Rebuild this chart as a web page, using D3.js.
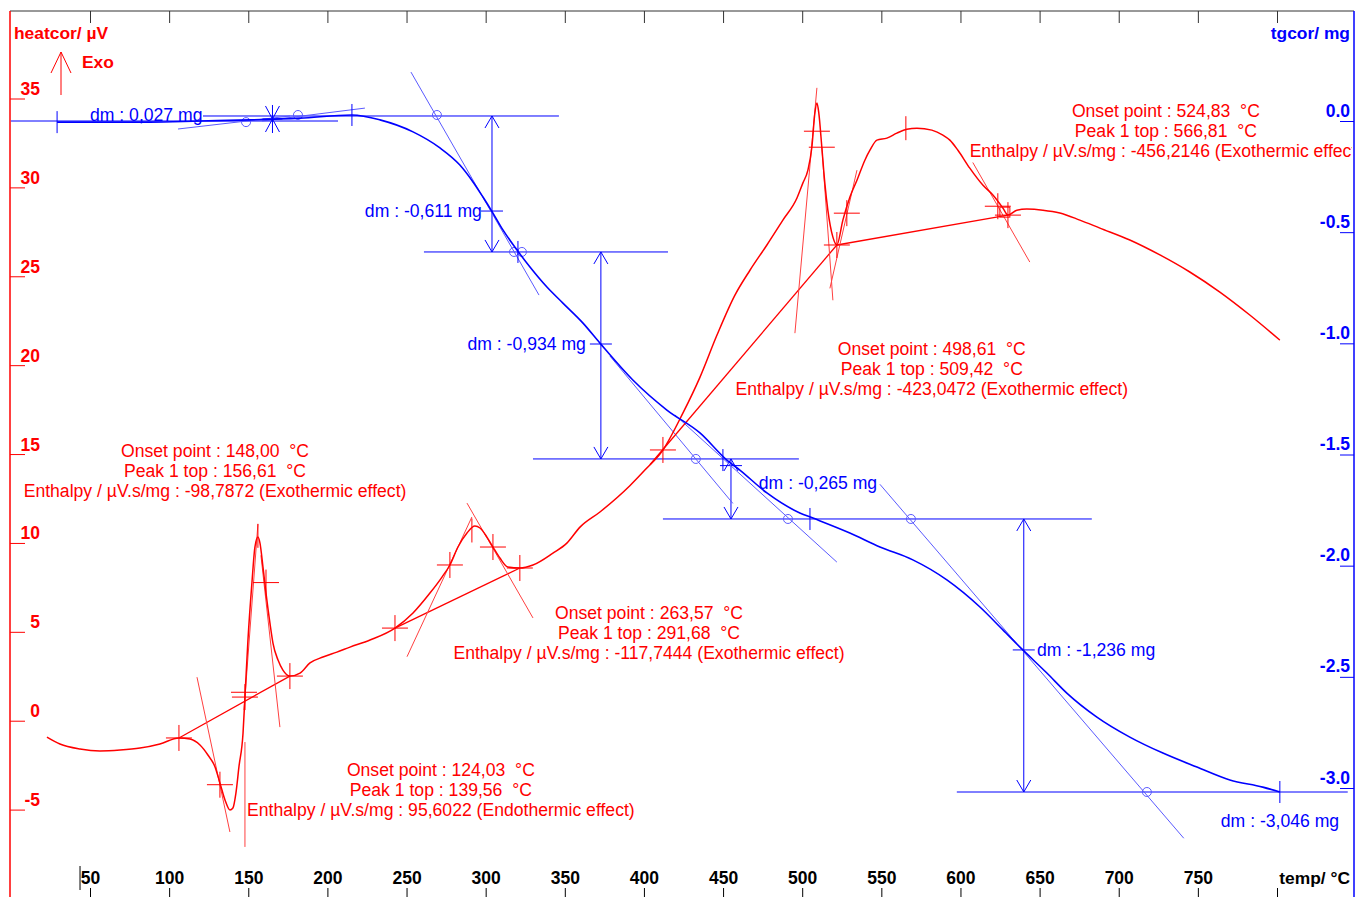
<!DOCTYPE html>
<html>
<head>
<meta charset="utf-8">
<script src="https://cdn.jsdelivr.net/npm/d3@7"></script>
<title>DSC / TG</title>
<style>
    body { margin: 0; background: #fff; }
    svg { display: block; background: #fff; }
    .axis text { font-family: "Liberation Sans", Arial, sans-serif; font-weight: bold; font-size: 17.5px; }
    .note { font-family: "Liberation Sans", Arial, sans-serif; font-size: 17.6px; white-space: pre; }
    .title { font-family: "Liberation Sans", Arial, sans-serif; font-weight: bold; font-size: 17.4px; }
</style>
</head>
<body>
<svg width="1356" height="897"></svg>
<script>
    // ticks
    const tempTicks = [50, 100, 150, 200, 250, 300, 350, 400, 450, 500, 550, 600, 650, 700, 750];
    const heatTicks = [-5, 0, 5, 10, 15, 20, 25, 30, 35];
    const massTicks = [0, -0.5, -1.0, -1.5, -2.0, -2.5, -3.0];

    // DSC curve (heatcor, µV)
    const dscTemp = [22.8, 31, 43.7, 56.3, 69, 81.6, 94.2, 106.2, 113.2, 119.5, 124.5, 129, 132.1, 135.3, 138.4, 140.3,
        142.2, 144.1, 146.7, 147.9, 149.8, 152.3, 154.2, 156.1, 157.4, 159.3, 161.2, 163.7, 165.6, 168.8, 171.9, 176.3,
        182.7, 189, 197.2, 206, 214.3, 226.9, 242.7, 254.1, 264.8, 272.4, 277.4, 282.5, 288.2, 293.2, 296.4, 300.8,
        304.6, 309, 314.1, 321.6, 329.9, 342.5, 351.3, 359.6, 372.2, 391.1, 400.6, 412, 424.6, 435.3, 446.1, 457.5,
        467, 477.7, 487.8, 496.7, 500.4, 503.6, 506.1, 508, 509.3, 510.5, 512.4, 514.3, 516.2, 519.4, 521.9, 525.7,
        530.1, 534.6, 539.6, 542.8, 547.2, 553.5, 559.8, 566.1, 572.5, 581.9, 588.9, 593.3, 598.4, 605.9, 614.1, 620.5,
        626.8, 630, 635.6, 641.9, 652.1, 662.8, 675.4, 688.1, 707, 726, 744.9, 763.9, 782.8, 801.8];
    const dscHeat = [-0.92, -1.31, -1.59, -1.70, -1.65, -1.54, -1.31, -0.97, -1.03, -1.37, -1.93, -2.60, -3.50, -4.46, -5.02, -4.91,
        -4.07, -2.60, -0.69, 1.33, 4.54, 7.74, 9.77, 10.33, 9.99, 8.64, 7.18, 5.49, 4.37, 3.41, 2.85, 2.51,
        2.68, 3.25, 3.58, 3.86, 4.14, 4.54, 5.21, 6.06, 7.18, 8.08, 8.76, 9.77, 10.56, 10.95, 10.84, 10.33,
        9.77, 9.15, 8.64, 8.59, 8.76, 9.43, 9.99, 10.89, 11.74, 13.22, 14.1, 15.23, 17.3, 19.3, 21.68, 23.94,
        25.34, 26.76, 28.16, 29.4, 30.24, 30.97, 32.26, 34.18, 34.74, 34.18, 32.26, 30.24, 28.72, 27.2, 26.76, 28.16,
        29.45, 30.4, 31.53, 32.09, 32.66, 32.77, 33.05, 33.27, 33.33, 33.22, 32.94, 32.66, 32.09, 31.08, 30.13, 29.57,
        28.84, 28.44, 28.72, 28.78, 28.72, 28.56, 28.16, 27.71, 27.04, 26.2, 25.24, 24.11, 22.82, 21.41];

    // TG curve (tgcor, mg)
    const tgTemp = [29.2, 56.3, 87.9, 119.5, 151.1, 182.7, 215.5, 233.2, 254.1, 271.1, 283.7, 292, 298.3, 304.6, 310.9,
        319.8, 328, 338.7, 348.8, 361.5, 372.2, 393, 414.5, 435.4, 452.4, 460.6, 477.7, 498.5, 506.8, 530.1, 549.1,
        569.9, 591.4, 612.3, 626.8, 639.4, 654.6, 667.2, 686.2, 707, 727.9, 749.4, 770.2, 791, 801.8];
    const tgMass = [-0.005, -0.005, -0.005, 0, 0.005, 0.013, 0.027, 0.005, -0.049, -0.121, -0.198, -0.274, -0.342, -0.414, -0.49,
        -0.58, -0.657, -0.747, -0.819, -0.909, -0.999, -1.165, -1.3, -1.403, -1.525, -1.57, -1.673, -1.763, -1.786, -1.853, -1.916,
        -1.974, -2.064, -2.186, -2.289, -2.379, -2.483, -2.573, -2.681, -2.771, -2.843, -2.906, -2.964, -2.996, -3.018];

    // TG step evaluation: levels [mass, fromTemp, toTemp]
    const stepLevels = [[0, 0, 206.7], [0.0225, 121.4, 346.3], [-0.589, 261, 415.2], [-1.52, 329.9, 497.9],
        [-1.79, 412, 683], [-3.018, 597.7, 844.7]];
    // dm arrows: [temp, top mass, bottom mass, crossing mass]
    const dmArrows = [[304, 0.0225, -0.589, -0.405], [372.8, -0.589, -1.52, -1.003], [455, -1.52, -1.79, -1.55],
        [640, -1.79, -3.018, -2.379]];
    const dmText = ["dm : 0,027 mg", "dm : -0,611 mg", "dm : -0,934 mg", "dm : -0,265 mg", "dm : -1,236 mg", "dm : -3,046 mg"];
    const dmTextAt = [[50, 0.027, "start"], [297.6, -0.405, "end"], [363.3, -1.003, "end"], [472.6, -1.628, "start"],
        [648.3, -2.379, "start"], [764.5, -3.148, "start"]];
    const tgTangents = [[252.8, 0.22, 333.7, -0.783], [378.5, -1.057, 456.2, -1.72], [419.6, -1.322, 521.9, -1.984],
        [549.1, -1.634, 741.1, -3.226], [105.6, -0.036, 176.3, 0.0225], [158.7, 0, 223.7, 0.058]];
    const tgCircles = [[148.6, -0.005], [181.4, 0.027], [269.2, 0.027], [317.9, -0.589], [322.9, -0.589],
        [432.8, -1.52], [491, -1.79], [568.7, -1.79], [717.8, -3.018]];
    const tgTicks = [[29.2, -0.005], [215.5, 0.027], [320.4, -0.589], [449.9, -1.525], [504.9, -1.79], [801.8, -3.018]];
    const tgStar = [165.3, 0.009];

    // DSC peak evaluation
    const dscBaselines = [[106.2, -0.97, 176.3, 2.51], [242.7, 5.21, 321.6, 8.59], [403.8, 14.4, 521.9, 26.76],
        [521.9, 26.76, 630, 28.44]];
    const dscTangents = [[117.6, 2.45, 138.4, -6.26], [147.3, 0.6, 156.1, 11.06], [158, 9.3, 170, -0.36],
        [147.9, -1.2, 147.9, -7.1], [250.3, 3.6, 291.3, 11.46], [288.2, 12.24, 329.9, 5.78], [495.4, 21.8, 509.3, 35.6],
        [519.4, 23.65, 512.4, 32.26], [517.5, 24.32, 534.6, 30.97], [607.8, 31.4, 643.8, 25.8]];
    const dscCrosses = [[106.2, -0.97], [132.1, -3.6], [147.9, 1.33], [161.2, 7.77], [176.3, 2.51], [242.7, 5.21],
        [277.4, 8.76], [304.6, 9.77], [321.6, 8.59], [412, 15.23], [521.9, 26.76], [528.2, 28.55], [623.6, 28.94], [630, 28.44]];
    const dscHMarks = [[147.3, 1.6], [509.3, 33.16], [512.4, 32.26]];
    const dscVMarks = [[156.1, 10.4], [291.3, 10.7], [565.5, 33.33]];
    const dscSquare = [624.9, 28.89];

    const peakOnset = ["148,00", "263,57", "124,03", "498,61", "524,83"];
    const peakTop = ["156,61", "291,68", "139,56", "509,42", "566,81"];
    const peakEnthalpy = ["-98,7872", "-117,7444", "95,6022", "-423,0472", "-456,2146"];
    const peakEffect = ["Exothermic", "Exothermic", "Endothermic", "Exothermic", "Exothermic"];
    const peakLabelAt = [[129, 15.17], [403.2, 6.06], [271.7, -2.77], [581.9, 20.9], [729.8, 34.29]];

    const frameL = 10, frameR = 1354, frameT = 11, frameB = 897;
    const RED = "#ff0000", BLUE = "#0000ff", LBLUE = "#5a5aff", LRED = "#ff4040";

    const x = d3.scaleLinear().domain([50, 800]).range([90, 1277]);
    const yHeat = d3.scaleLinear().domain([-5, 35]).range([809.6, 98.5]);
    const yMass = d3.scaleLinear().domain([-3, 0]).range([788, 121]);

    const svg = d3.select("svg");

    svg.append("defs").append("clipPath").attr("id", "plot")
        .append("rect").attr("x", frameL).attr("y", frameT).attr("width", frameR - frameL - 2).attr("height", frameB - frameT);

    // frame
    svg.append("line").attr("x1", frameL).attr("x2", frameR).attr("y1", frameT).attr("y2", frameT)
        .attr("stroke", "#333").attr("stroke-width", 1);
    svg.append("line").attr("x1", frameL).attr("x2", frameL).attr("y1", frameT).attr("y2", frameB)
        .attr("stroke", RED).attr("stroke-width", 1.5);
    svg.append("line").attr("x1", frameR).attr("x2", frameR).attr("y1", frameT).attr("y2", frameB)
        .attr("stroke", BLUE).attr("stroke-width", 1.5);

    // x axis, bottom (labels above ticks)
    svg.append("g").attr("class", "axis").attr("color", "#000")
        .attr("transform", `translate(0,${frameB})`)
        .call(d3.axisTop(x).tickValues(tempTicks.concat([800])).tickSize(9).tickPadding(4)
            .tickFormat(d => d === 800 ? "" : d))
        .call(g => g.select(".domain").remove());
    svg.append("line").attr("x1", x(43.7)).attr("x2", x(43.7)).attr("y1", 866).attr("y2", 890)
        .attr("stroke", "#000");

    // x ticks on top frame
    svg.append("g").attr("color", "#333")
        .attr("transform", `translate(0,${frameT})`)
        .call(d3.axisBottom(x).tickValues(tempTicks.concat([800])).tickSize(12).tickFormat(""))
        .call(g => g.select(".domain").remove());

    // left axis heatcor
    svg.append("g").attr("class", "axis").attr("color", RED)
        .attr("transform", `translate(${frameL},0)`)
        .call(d3.axisRight(yHeat).tickValues(heatTicks).tickSize(15).tickFormat(d => String(d)))
        .call(g => g.select(".domain").remove())
        .call(g => g.selectAll("text").attr("x", 30).attr("y", -4).attr("dy", null).attr("text-anchor", "end"));

    // right axis tgcor
    svg.append("g").attr("class", "axis").attr("color", BLUE)
        .attr("transform", `translate(${frameR},0)`)
        .call(d3.axisLeft(yMass).tickValues(massTicks).tickSize(14).tickFormat(d => d.toFixed(1)))
        .call(g => g.select(".domain").remove())
        .call(g => g.selectAll("text").attr("x", -4).attr("y", -5).attr("dy", null).attr("text-anchor", "end"));

    // axis titles
    svg.append("text").attr("class", "title").attr("x", 14).attr("y", 39).attr("fill", RED).text("heatcor/ µV");
    svg.append("text").attr("class", "title").attr("x", 82).attr("y", 68).attr("fill", RED).text("Exo");
    svg.append("path").attr("d", "M61,95V52M51,73L61,52L71,73").attr("fill", "none").attr("stroke", RED);
    svg.append("text").attr("class", "title").attr("x", 1350).attr("y", 39).attr("text-anchor", "end")
        .attr("fill", BLUE).text("tgcor/ mg");
    svg.append("text").attr("class", "title").attr("x", 1350).attr("y", 884).attr("text-anchor", "end")
        .attr("fill", "#000").text("temp/ °C");

    const plot = svg.append("g").attr("clip-path", "url(#plot)");

    // ----- TG annotations (blue)
    const tg = plot.append("g").attr("stroke", BLUE).attr("fill", "none");
    tg.selectAll(".lvl").data(stepLevels).enter().append("line")
        .attr("x1", d => Math.max(frameL, x(d[1]))).attr("x2", d => x(d[2]))
        .attr("y1", d => yMass(d[0])).attr("y2", d => yMass(d[0]));
    dmArrows.forEach(d => {
        const ax = x(d[0]), y0 = yMass(d[1]), y1 = yMass(d[2]), ym = yMass(d[3]);
        tg.append("path").attr("d", `M${ax},${y0}V${y1}M${ax - 7},${y0 + 12}L${ax},${y0}L${ax + 7},${y0 + 12}` +
            `M${ax - 7},${y1 - 12}L${ax},${y1}L${ax + 7},${y1 - 12}M${ax - 11},${ym}H${ax + 11}`);
    });
    tg.selectAll(".tan").data(tgTangents).enter().append("line")
        .attr("stroke", LBLUE)
        .attr("x1", d => x(d[0])).attr("y1", d => yMass(d[1]))
        .attr("x2", d => x(d[2])).attr("y2", d => yMass(d[3]));
    tg.selectAll("circle").data(tgCircles).enter().append("circle")
        .attr("stroke", LBLUE)
        .attr("cx", d => x(d[0])).attr("cy", d => yMass(d[1])).attr("r", 4.5);
    tg.selectAll(".tk").data(tgTicks).enter().append("line")
        .attr("x1", d => x(d[0])).attr("x2", d => x(d[0]))
        .attr("y1", d => yMass(d[1]) - 11).attr("y2", d => yMass(d[1]) + 11);
    {
        const sx = x(tgStar[0]), sy = yMass(tgStar[1]);
        tg.append("path").attr("d", `M${sx},${sy - 14}V${sy + 14}M${sx - 7},${sy - 13}L${sx + 7},${sy + 13}` +
            `M${sx + 7},${sy - 13}L${sx - 7},${sy + 13}M${sx - 10},${sy}H${sx + 10}`);
    }

    // ----- DSC annotations (red)
    const ds = plot.append("g").attr("stroke", RED).attr("fill", "none");
    ds.selectAll(".base").data(dscBaselines).enter().append("line")
        .attr("stroke-width", 1.3)
        .attr("x1", d => x(d[0])).attr("y1", d => yHeat(d[1]))
        .attr("x2", d => x(d[2])).attr("y2", d => yHeat(d[3]));
    ds.selectAll(".tan").data(dscTangents).enter().append("line")
        .attr("stroke", LRED)
        .attr("x1", d => x(d[0])).attr("y1", d => yHeat(d[1]))
        .attr("x2", d => x(d[2])).attr("y2", d => yHeat(d[3]));
    ds.selectAll(".cr").data(dscCrosses).enter().append("path")
        .attr("d", d => {
            const cx = x(d[0]), cy = yHeat(d[1]);
            return `M${cx - 13},${cy}H${cx + 13}M${cx},${cy - 13}V${cy + 13}`;
        });
    ds.selectAll(".hm").data(dscHMarks).enter().append("path")
        .attr("d", d => `M${x(d[0]) - 13},${yHeat(d[1])}H${x(d[0]) + 13}`);
    ds.selectAll(".vm").data(dscVMarks).enter().append("path")
        .attr("d", d => `M${x(d[0])},${yHeat(d[1]) - 12}V${yHeat(d[1]) + 12}`);
    ds.append("rect").attr("x", x(dscSquare[0])).attr("y", yHeat(dscSquare[1]))
        .attr("width", 10).attr("height", 10);

    // ----- curves
    const dscLine = d3.line().x(d => x(d[0])).y(d => yHeat(d[1])).curve(d3.curveMonotoneX);
    const tgLine = d3.line().x(d => x(d[0])).y(d => yMass(d[1])).curve(d3.curveMonotoneX);
    plot.append("path").datum(dscTemp.map((t, i) => [t, dscHeat[i]]))
        .attr("d", dscLine).attr("fill", "none").attr("stroke", RED).attr("stroke-width", 1.5);
    plot.append("path").datum(tgTemp.map((t, i) => [t, tgMass[i]]))
        .attr("d", tgLine).attr("fill", "none").attr("stroke", BLUE).attr("stroke-width", 1.6);

    // ----- texts
    const notes = plot.append("g");
    notes.selectAll(".dm").data(dmText).enter().append("text")
        .attr("class", "note").attr("fill", BLUE)
        .attr("x", (d, i) => x(dmTextAt[i][0])).attr("y", (d, i) => yMass(dmTextAt[i][1]))
        .attr("dy", "0.35em").attr("text-anchor", (d, i) => dmTextAt[i][2])
        .text(d => d);

    peakOnset.forEach((o, i) => {
        const cx = x(peakLabelAt[i][0]), cy = yHeat(peakLabelAt[i][1]);
        const lines = [
            `Onset point : ${o}  °C`,
            `Peak 1 top : ${peakTop[i]}  °C`,
            `Enthalpy / µV.s/mg : ${peakEnthalpy[i]} (${peakEffect[i]} effect)`
        ];
        notes.selectAll(null).data(lines).enter().append("text")
            .attr("class", "note").attr("fill", RED)
            .attr("x", cx).attr("y", (d, j) => cy + j * 20)
            .attr("dy", "0.35em").attr("text-anchor", "middle")
            .text(d => d);
    });
</script>
</body>
</html>
